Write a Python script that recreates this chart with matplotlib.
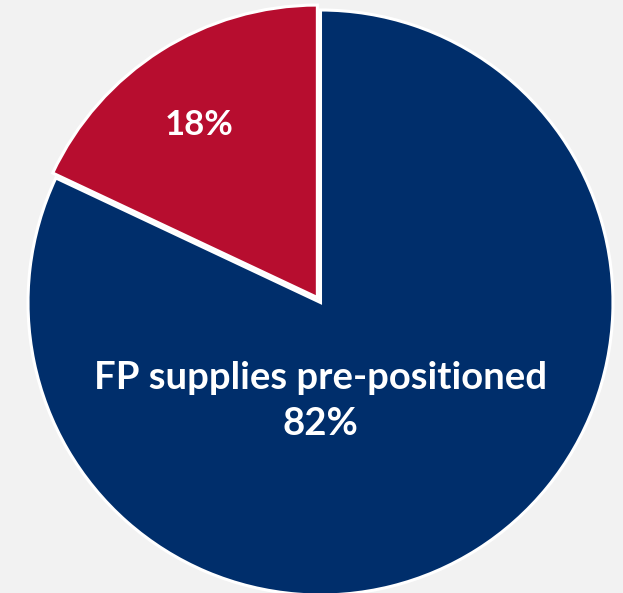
import matplotlib.pyplot as plt

labels = ["", "FP supplies pre-positioned"]
shares = [18, 82]
slice_colors = ["#B70D2F", "#002E6B"]

fig = plt.figure(figsize=(6.23, 5.93), dpi=100, facecolor="#F2F2F2")
ax = fig.add_axes([0, 0, 1, 1])
ax.set_facecolor("#F2F2F2")

wedges, _ = ax.pie(shares, colors=slice_colors, startangle=90, counterclock=True,
                   explode=[0.02, 0], radius=1,
                   wedgeprops=dict(edgecolor="white", linewidth=2.2))

ax.set_aspect("equal")
ax.set_xlim(-1.0957, 1.0342)
ax.set_ylim(-0.9932, 1.0342)
ax.axis("off")

font = dict(color="white", fontweight="bold", family=["Lato", "DejaVu Sans"])
ax.text(-0.415, 0.607, f"{shares[0]}%", ha="center", va="center", fontsize=25, **font)
ax.text(0.0, -0.337, f"{labels[1]}\n{shares[1]}%", ha="center", va="center",
        fontsize=27.5, linespacing=1.42, **font)

fig.savefig("out.png", dpi=100, facecolor=fig.get_facecolor())
